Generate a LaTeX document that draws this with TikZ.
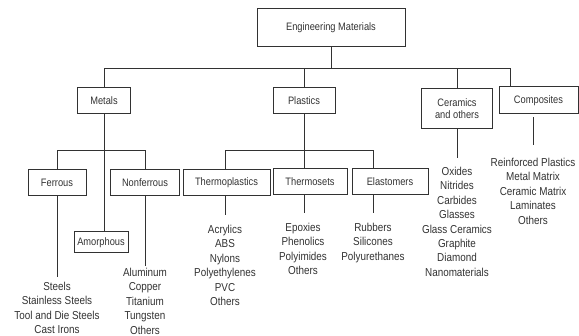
\documentclass[tikz,border=0pt]{standalone}
\usepackage{fontspec}
\setmainfont{Liberation Sans}[FakeStretch=0.86]
\definecolor{ink}{RGB}{50,50,50}
\begin{document}
\begin{tikzpicture}[x=1pt,y=-1pt,
  box/.style={draw=ink, line width=1pt, text=ink, inner sep=0pt, font=\fontsize{10.8}{12}\selectfont, align=center},
  lst/.style={text=ink, inner sep=0pt, font=\fontsize{11.5}{14.4}\selectfont, align=center, anchor=north},
  ln/.style={draw=ink, line width=1pt}]
\useasboundingbox (0,0) rectangle (579,336);
% boxes
\node[box, minimum width=148pt, minimum height=38pt] (em) at (331,28) {Engineering Materials};
\node[box, minimum width=53pt, minimum height=26pt] (metals) at (104,101) {Metals};
\node[box, minimum width=62pt, minimum height=26pt] (plastics) at (304,101) {Plastics};
\node[box, minimum width=71pt, minimum height=40pt] (ceram) at (457,109) {Ceramics\\and others};
\node[box, minimum width=79pt, minimum height=27pt] (comp) at (538.5,100.5) {Composites};
\node[box, minimum width=58pt, minimum height=26pt] (ferrous) at (57,183) {Ferrous};
\node[box, minimum width=69pt, minimum height=26pt] (nonf) at (145,183) {Nonferrous};
\node[box, minimum width=54pt, minimum height=21pt] (amor) at (101,242.5) {Amorphous};
\node[box, minimum width=87pt, minimum height=26pt] (tplast) at (226.5,183) {Thermoplastics};
\node[box, minimum width=74pt, minimum height=26pt] (tsets) at (310,182) {Thermosets};
\node[box, minimum width=76pt, minimum height=26pt] (elast) at (390,182) {Elastomers};
% lists
\node[lst] (ferrL) at (57,282) {Steels\\Stainless Steels\\Tool and Die Steels\\Cast Irons};
\node[lst] (nonfL) at (145,268) {Aluminum\\Copper\\Titanium\\Tungsten\\Others};
\node[lst] (tpL) at (225,225) {Acrylics\\ABS\\Nylons\\Polyethylenes\\PVC\\Others};
\node[lst] (tsL) at (303,223) {Epoxies\\Phenolics\\Polyimides\\Others};
\node[lst] (elL) at (373,223) {Rubbers\\Silicones\\Polyurethanes};
\node[lst] (ceL) at (457,167) {Oxides\\Nitrides\\Carbides\\Glasses\\Glass Ceramics\\Graphite\\Diamond\\Nanomaterials};
\node[lst] (coL) at (533,158) {Reinforced Plastics\\Metal Matrix\\Ceramic Matrix\\Laminates\\Others};
% junctions
\coordinate (tbL) at (104,69);
\coordinate (tbR) at (510,69);
\coordinate (mbL) at (57,151);
\coordinate (mbR) at (145,151);
\coordinate (pbL) at (225,151);
\coordinate (pbR) at (373,151);
% connectors
\draw[ln] (em.south) -- (em.south |- tbL);
\draw[ln] (metals.north) -- (tbL) -- (tbR) -- (tbR |- comp.north);
\draw[ln] (plastics.north) -- (plastics.north |- tbL);
\draw[ln] (ceram.north) -- (ceram.north |- tbL);
\draw[ln] (metals.south) -- (metals.south |- amor.north);
\draw[ln] (ferrous.north) -- (mbL) -- (mbR) -- (nonf.north);
\draw[ln] (pbL |- tplast.north) -- (pbL) -- (pbR) -- (pbR |- elast.north);
\draw[ln] (plastics.south) -- (plastics.south |- tsets.north);
\draw[ln, shorten >=5pt] (ferrous.south) -- (ferrous.south |- ferrL.north);
\draw[ln, shorten >=2pt] (nonf.south) -- (nonf.south |- nonfL.north);
\draw[ln, shorten >=10pt] (pbL |- tplast.south) -- (pbL |- tpL.north);
\draw[ln, shorten >=10pt] (plastics.south |- tsets.south) -- (plastics.south |- tsL.north);
\draw[ln, shorten >=10pt] (pbR |- elast.south) -- (pbR |- elL.north);
\draw[ln, shorten >=9pt] (ceram.south) -- (ceram.south |- ceL.north);
\draw[ln, shorten <=3pt, shorten >=13pt] (coL.north |- comp.south) -- (coL.north);
\end{tikzpicture}
\end{document}
